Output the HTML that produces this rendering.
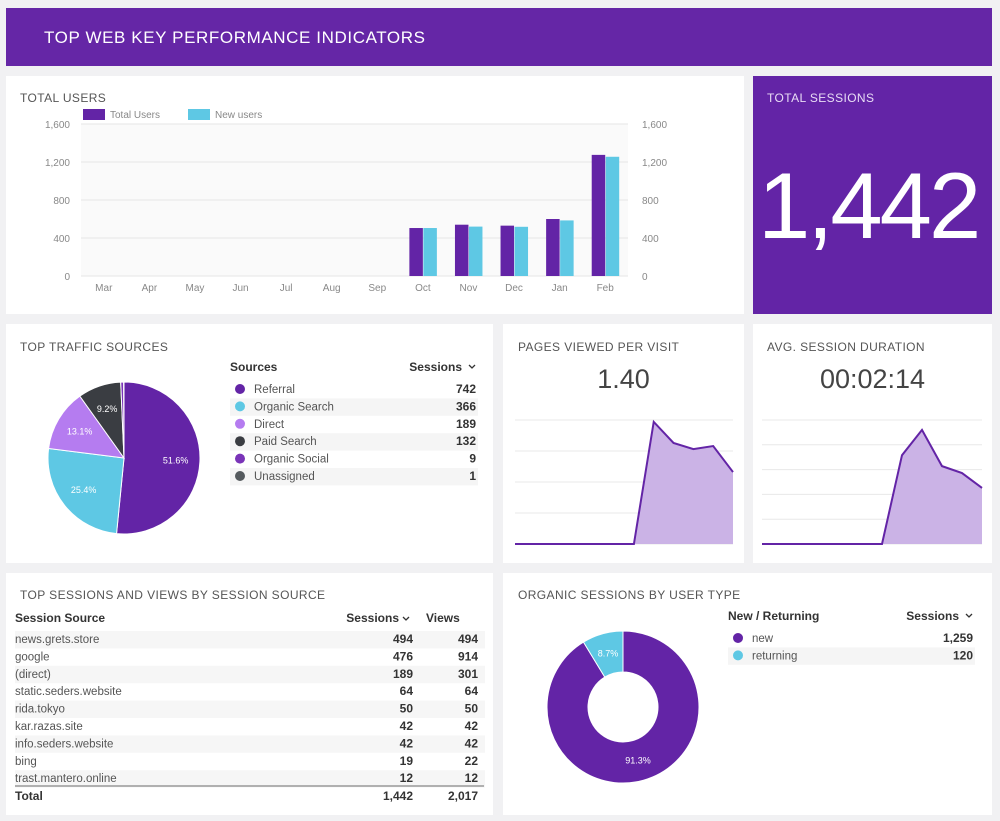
<!DOCTYPE html>
<html><head><meta charset="utf-8">
<style>
body{margin:0;width:1000px;height:821px;background:#f1f1f3;font-family:"Liberation Sans",sans-serif;position:relative;overflow:hidden;color:#444}
.card{position:absolute;background:#fff}
.t{position:absolute;font-size:12px;letter-spacing:.4px;color:#555}
svg{position:absolute;left:0;top:0}
</style></head><body>
<div style="position:absolute;left:6px;top:8px;width:986px;height:58px;background:#6526a6;">
<div style="position:absolute;left:38px;top:20px;color:#fff;font-size:17px;letter-spacing:.6px">TOP WEB KEY PERFORMANCE INDICATORS</div></div>

<div class="card" style="left:6px;top:76px;width:738px;height:238px"></div>
<div class="card" style="left:753px;top:76px;width:239px;height:238px;background:#6324a6">
<div class="t" style="left:14px;top:15px;color:#e8dcf5">TOTAL SESSIONS</div>
<div style="position:absolute;left:5px;top:83px;color:#fff;font-size:94px;letter-spacing:-3px;line-height:1">1,442</div></div>
<div class="card" style="left:6px;top:324px;width:487px;height:239px"></div>
<div class="card" style="left:503px;top:324px;width:241px;height:239px"></div>
<div class="card" style="left:753px;top:324px;width:239px;height:239px"></div>
<div class="card" style="left:6px;top:573px;width:487px;height:242px"></div>
<div class="card" style="left:503px;top:573px;width:489px;height:242px"></div>

<div class="t" style="left:20px;top:91px">TOTAL USERS</div>
<div class="t" style="left:20px;top:340px">TOP TRAFFIC SOURCES</div>
<div class="t" style="left:518px;top:340px">PAGES VIEWED PER VISIT</div>
<div class="t" style="left:767px;top:340px">AVG. SESSION DURATION</div>
<div class="t" style="left:20px;top:588px">TOP SESSIONS AND VIEWS BY SESSION SOURCE</div>
<div class="t" style="left:518px;top:588px">ORGANIC SESSIONS BY USER TYPE</div>
<div style="position:absolute;left:503px;width:241px;text-align:center;top:364px;font-size:27px;color:#444">1.40</div>
<div style="position:absolute;left:753px;width:239px;text-align:center;top:364px;font-size:27px;color:#444">00:02:14</div>

<svg id="chart" width="1000" height="821"></svg>

<script>
const months=["Mar","Apr","May","Jun","Jul","Aug","Sep","Oct","Nov","Dec","Jan","Feb"];
const totalUsers=[0,0,0,0,0,0,0,505,540,530,600,1275];
const newUsers=[0,0,0,0,0,0,0,505,520,518,585,1255];
const yTicks=[0,400,800,1200,1600];
const pagesPerVisit=[0,0,0,0,0,0,0,1.97,1.63,1.53,1.58,1.16];
const sessionDuration=[0,0,0,0,0,0,0,179,230,157,143,113];
const sourceNames=["Referral","Organic Search","Direct","Paid Search","Organic Social","Unassigned"];
const sourceSessions=[742,366,189,132,9,1];
const sourceColors=["#6324a6","#5ec8e4","#b57cf0","#3a3d42","#7a34b8","#555a5e"];
const tableSources=["news.grets.store","google","(direct)","static.seders.website","rida.tokyo","kar.razas.site","info.seders.website","bing","trast.mantero.online"];
const tableSessions=[494,476,189,64,50,42,42,19,12];
const tableViews=[494,914,301,64,50,42,42,22,12];
const totals=["1,442","2,017"];
const userTypes=["new","returning"];
const userTypeSessions=[1259,120];

const svg=document.getElementById('chart');
const NS="http://www.w3.org/2000/svg";
function mk(tag,attrs,txt){const e=document.createElementNS(NS,tag);for(const k in attrs)e.setAttribute(k,attrs[k]);if(txt!==undefined)e.textContent=txt;svg.appendChild(e);return e;}
const fmt=n=>n.toLocaleString('en-US');

// Bar chart
const px0=81,px1=628,py0=276,py1=124,ymax=1600;
const y=v=>py0-(v/ymax)*(py0-py1);
const band=(px1-px0)/months.length;
const bx=i=>px0+band*i;
let e=mk('rect',{x:px0,y:py1,width:px1-px0,height:py0-py1,fill:'#fafafa'});

yTicks.forEach(t=>{
 e=mk('line',{x1:px0,x2:px1,y1:y(t),y2:y(t),stroke:'#e6e6e6'});
 
 e=mk('text',{x:70,y:y(t)+4,'text-anchor':'end','font-size':10,fill:'#888'},fmt(t));
 
 e=mk('text',{x:642,y:y(t)+4,'font-size':10,fill:'#888'},fmt(t));
 
});
months.forEach((m,i)=>{
 e=mk('text',{x:bx(i)+band/2,y:291,'text-anchor':'middle','font-size':10,fill:'#888'},m);
 
 const bw=13.5,c=bx(i)+band/2;
 if(totalUsers[i]>0){e=mk('rect',{x:c-bw,y:y(totalUsers[i]),width:bw,height:py0-y(totalUsers[i]),fill:'#6324a6'});
 }
 if(newUsers[i]>0){e=mk('rect',{x:c+0.5,y:y(newUsers[i]),width:bw,height:py0-y(newUsers[i]),fill:'#5ec8e4'});
 }
});
e=mk('rect',{x:83,y:109,width:22,height:11,fill:'#6324a6'});
e=mk('text',{x:110,y:118,'font-size':10,fill:'#888'},'Total Users');
e=mk('rect',{x:188,y:109,width:22,height:11,fill:'#5ec8e4'});
e=mk('text',{x:215,y:118,'font-size':10,fill:'#888'},'New users');

// Sparklines
function spark(vals,x0,x1,yb,yt,vmax,grids,name){
 for(let g=0;g<=grids;g++){const gy=yb-(yb-yt)*g/grids;
  e=mk('line',{x1:x0,x2:x1,y1:gy,y2:gy,stroke:'#e8e8e8'});}
 const sx=i=>x0+(x1-x0)*i/(vals.length-1), sy=v=>yb-(v/vmax)*(yb-yt);
 let d=vals.map((v,i)=>(i?'L':'M')+sx(i)+','+sy(v)).join(' ');
 e=mk('path',{d:d+` L${x1},${yb} L${x0},${yb} Z`,fill:'#cbb3e6'});
 e=mk('path',{d:d,fill:'none',stroke:'#6324a6','stroke-width':2});
}
spark(pagesPerVisit,515,733,544,420,2,4,'pages-sparkline');
spark(sessionDuration,762,982,544,420,250,5,'duration-sparkline');

// Pie
function pie(vals,cols,cx,cy,r,ri,name){
 const tot=vals.reduce((a,b)=>a+b,0);let a=0;
 vals.forEach((v,i)=>{const a0=a,a1=a+v/tot*2*Math.PI;a=a1;
  const p=(ang,rr)=>[cx+rr*Math.sin(ang),cy-rr*Math.cos(ang)];
  const [xa,ya]=p(a0,r),[xb,yb]=p(a1,r),lg=(a1-a0)>Math.PI?1:0;
  let d=`M${xa},${ya} A${r},${r} 0 ${lg} 1 ${xb},${yb}`;
  if(ri){const [xc,yc]=p(a1,ri),[xd,yd]=p(a0,ri);d+=` L${xc},${yc} A${ri},${ri} 0 ${lg} 0 ${xd},${yd} Z`;}else d+=` L${cx},${cy} Z`;
  e=mk('path',{d:d,fill:cols[i],stroke:'#fff','stroke-width':1});
  const pct=v/tot*100;
  if(pct>5){const lr=ri?(r+ri)/2:r*0.68;const [lx,ly]=p((a0+a1)/2,lr);
   e=mk('text',{x:lx,y:ly+3,'text-anchor':'middle','font-size':9,fill:'#fff'},pct.toFixed(1)+'%');
   }
 });
}
pie(sourceSessions,sourceColors,124,458,76,0,'traffic-pie');
pie(userTypeSessions,['#6324a6','#5ec8e4'],623,707,76,35,'user-type-donut');

// Legend tables
function legendTable(names,vals,cols,x0,x1,yh,hdr1,hdr2,name,rowH){
 e=mk('text',{x:x0,y:yh,'font-size':12,'font-weight':'bold',fill:'#333'},hdr1);
 e=mk('text',{x:x1-14,y:yh,'text-anchor':'end','font-size':12,'font-weight':'bold',fill:'#333'},hdr2);
 e=mk('path',{d:`M${x1-7},${yh-6} l3,3 l3,-3`,fill:'none',stroke:'#333','stroke-width':1.3});
 names.forEach((n,i)=>{const ry=yh+22+i*rowH;
  if(i%2==1){e=mk('rect',{x:x0,y:ry-12,width:x1-x0+2,height:rowH,fill:'#f5f5f5'});}
  e=mk('circle',{cx:x0+10,cy:ry-4,r:5,fill:cols[i]});
  e=mk('text',{x:x0+24,y:ry,'font-size':11.5,fill:'#555'},n);
  e=mk('text',{x:x1,y:ry,'text-anchor':'end','font-size':12,'font-weight':'bold',fill:'#333'},fmt(vals[i]));
 });
}
legendTable(sourceNames,sourceSessions,sourceColors,230,476,371,'Sources','Sessions','sources-legend',17.4);
legendTable(userTypes,userTypeSessions,['#6324a6','#5ec8e4'],728,973,620,'New / Returning','Sessions','user-type-legend',17.4);

// Session table
const tx0=15,tc1=413,tc2=478;
e=mk('text',{x:tx0,y:622,'font-size':12,'font-weight':'bold',fill:'#333'},'Session Source');
e=mk('text',{x:399,y:622,'text-anchor':'end','font-size':12,'font-weight':'bold',fill:'#333'},'Sessions');
e=mk('path',{d:`M403,617 l3,3 l3,-3`,fill:'none',stroke:'#333','stroke-width':1.3});
e=mk('text',{x:426,y:622,'font-size':12,'font-weight':'bold',fill:'#333'},'Views');
tableSources.forEach((s,i)=>{const ry=643+i*17.4;
 if(i%2==0){e=mk('rect',{x:tx0,y:ry-12,width:470,height:17.4,fill:'#f6f6f6'});}
 e=mk('text',{x:tx0,y:ry,'font-size':11.5,fill:'#555'},s);
 e=mk('text',{x:tc1,y:ry,'text-anchor':'end','font-size':12,'font-weight':'bold',fill:'#333'},fmt(tableSessions[i]));
 e=mk('text',{x:tc2,y:ry,'text-anchor':'end','font-size':12,'font-weight':'bold',fill:'#333'},fmt(tableViews[i]));
});
e=mk('line',{x1:tx0,x2:484,y1:786,y2:786,stroke:'#999','stroke-width':1.5});
e=mk('text',{x:tx0,y:800,'font-size':12,'font-weight':'bold',fill:'#333'},'Total');
e=mk('text',{x:tc1,y:800,'text-anchor':'end','font-size':12,'font-weight':'bold',fill:'#333'},totals[0]);
e=mk('text',{x:tc2,y:800,'text-anchor':'end','font-size':12,'font-weight':'bold',fill:'#333'},totals[1]);
</script>
</body></html>
